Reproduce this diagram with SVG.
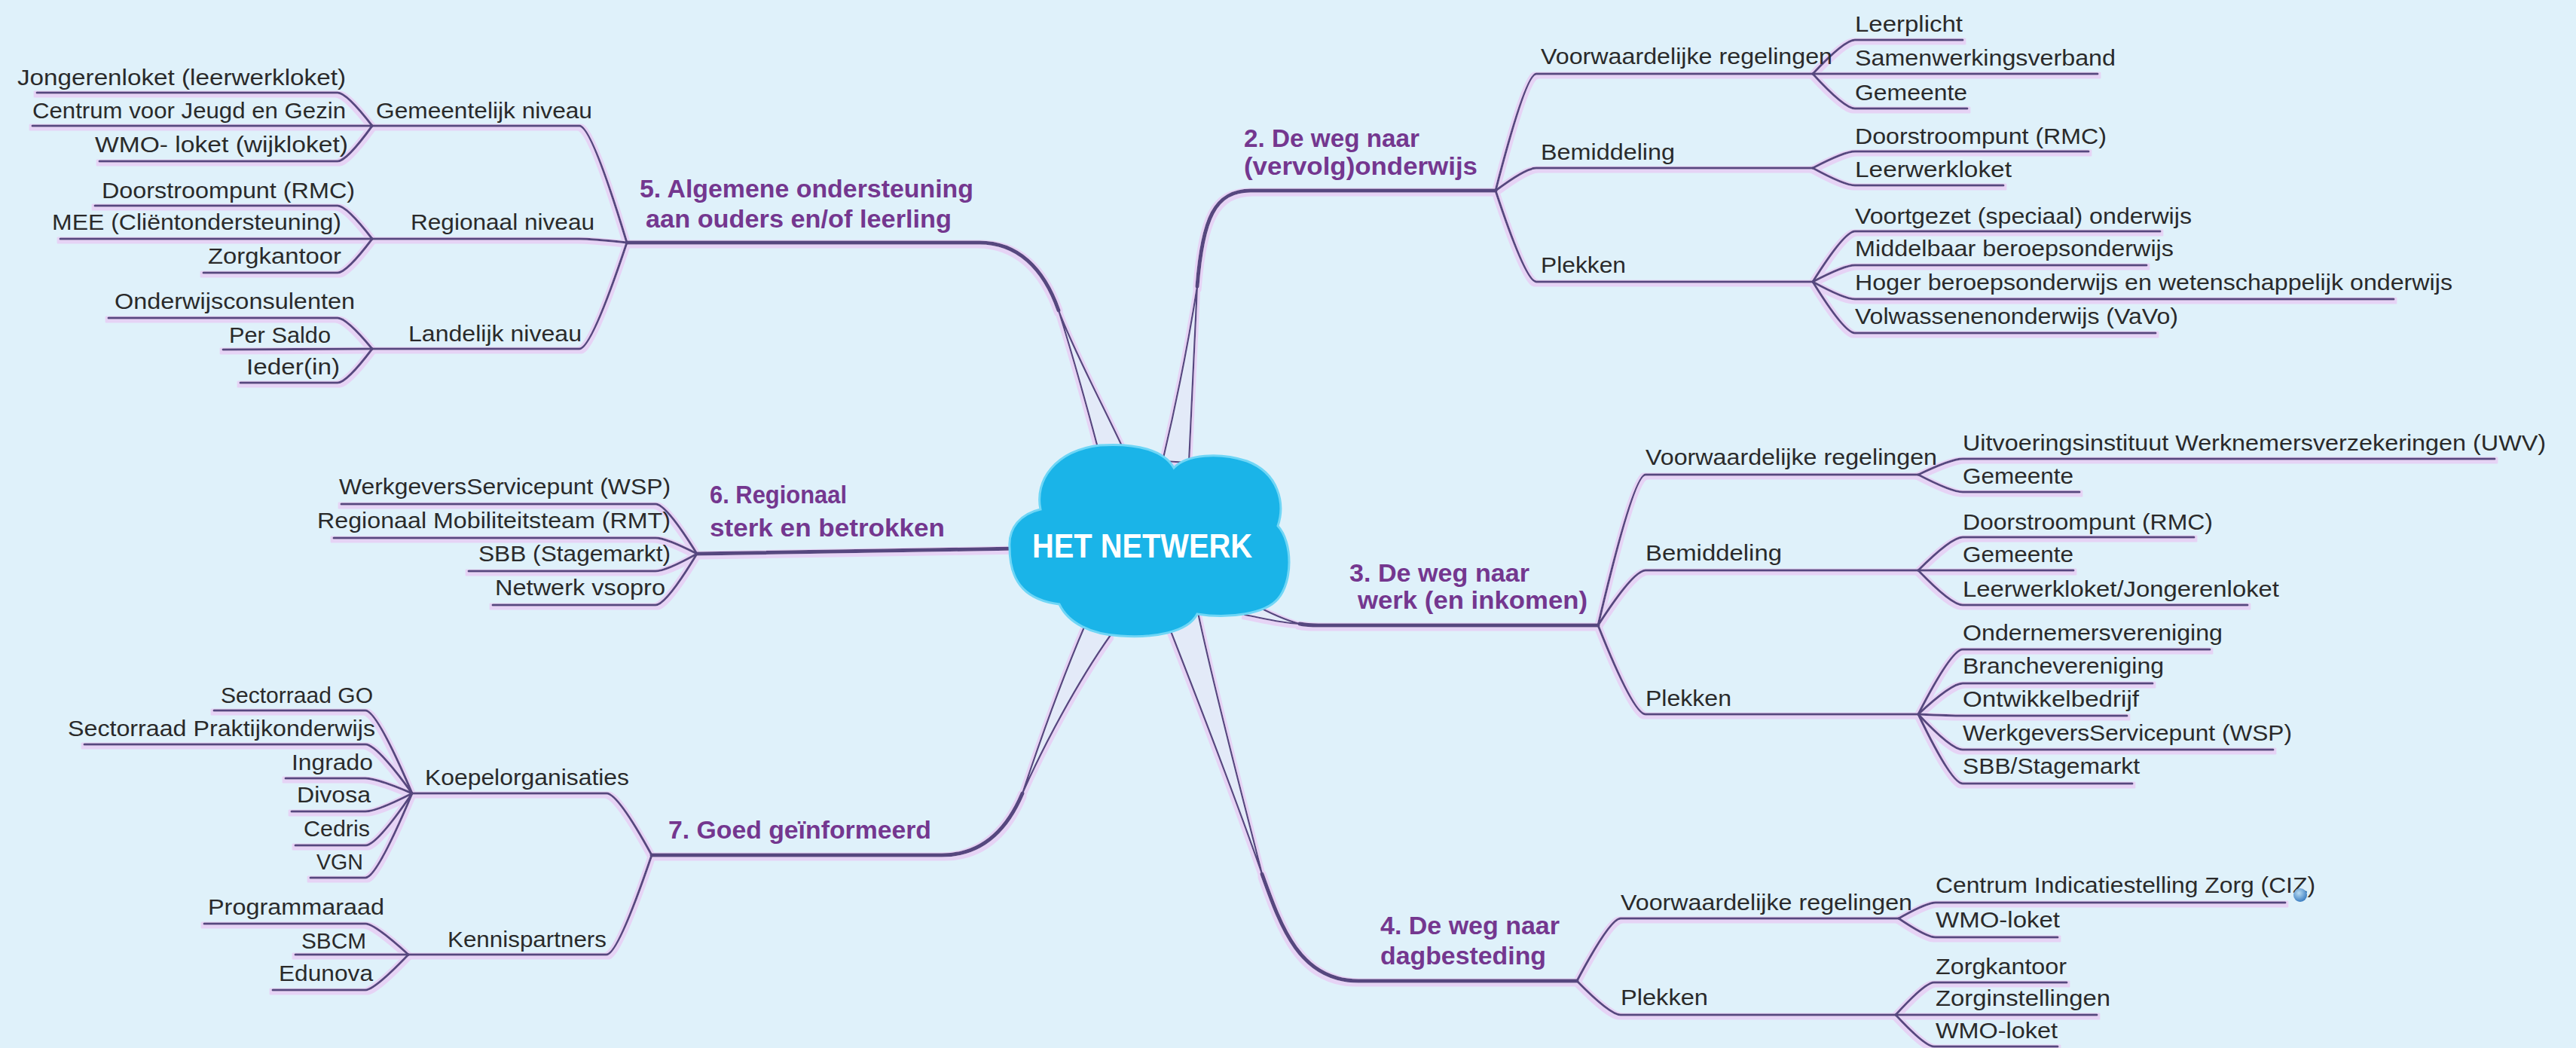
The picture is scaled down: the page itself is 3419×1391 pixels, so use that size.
<svg xmlns="http://www.w3.org/2000/svg" width="3419" height="1391" viewBox="0 0 3419 1391">
<defs>
<style>
.c{font-family:"Liberation Sans",Arial,sans-serif;font-size:30px;fill:#2a2a2a}
.t{font-family:"Liberation Sans",Arial,sans-serif;font-size:33px;font-weight:bold;fill:#74378f}
.hub{font-family:"Liberation Sans",Arial,sans-serif;font-size:44px;font-weight:bold;fill:#ffffff}
.ln{fill:none;stroke:#56467f;stroke-width:3;stroke-linecap:round;stroke-linejoin:round}
.mn{fill:none;stroke:#56467f;stroke-width:5;stroke-linecap:round;stroke-linejoin:round}
.wd{fill:#e3eaf8;stroke:#56467f;stroke-width:2.2;stroke-linejoin:round}
</style>
<filter id="glow" x="-2%" y="-2%" width="104%" height="104%">
<feMorphology in="SourceAlpha" operator="dilate" radius="3" result="d"/>
<feFlood flood-color="#e6d3f5"/>
<feComposite in2="d" operator="in" result="g"/>
<feOffset dy="1.5"/>
<feMerge><feMergeNode/><feMergeNode in="SourceGraphic"/></feMerge>
</filter>
<radialGradient id="ball" cx="40%" cy="35%" r="65%">
<stop offset="0" stop-color="#b9dcf3"/>
<stop offset="1" stop-color="#3d7fc2"/>
</radialGradient>
</defs>
<rect width="3419" height="1391" fill="#dff1fa"/>

<g id="connectors" filter="url(#glow)">
<!-- main branches: tapered part near the hub + thick line -->
<path class="wd" d="M1543,612 C1560,540 1578,450 1589,380 C1586,450 1582,530 1578,614 Z"/>
<path class="mn" d="M1589,380 C1596,290 1612,253 1660,253 L1985,253"/>
<path class="wd" d="M1660,800 C1682,812 1702,822 1725,828 C1700,827 1678,821 1652,816 Z"/>
<path class="mn" d="M1725,828 Q1735,830 1750,830 L2121,830"/>
<path class="wd" d="M1552,833 C1590,930 1640,1060 1675,1160 C1650,1060 1615,930 1590,813 Z"/>
<path class="mn" d="M1675,1160 C1700,1230 1725,1302 1803,1302 L2093,1302"/>
<path class="wd" d="M1458,598 C1440,530 1420,460 1405,412 C1425,465 1460,530 1492,598 Z"/>
<path class="mn" d="M1405,412 C1385,355 1350,322 1300,322 L832,322"/>
<path class="mn" d="M925,735 L1352,728"/>
<path class="wd" d="M1440,830 C1410,900 1378,990 1357,1053 C1385,990 1430,905 1474,843 Z"/>
<path class="mn" d="M1357,1053 C1335,1105 1300,1135 1250,1135 L865,1135"/>
<!-- branch 2 -->
<path class="ln" d="M1985,253 Q2025,98 2039,98 L2406,98"/>
<path class="ln" d="M1985,253 Q2025,223 2039,223 L2406,223"/>
<path class="ln" d="M1985,253 Q2025,374 2039,374 L2406,374"/>
<path class="ln" d="M2406,98 Q2448,53 2462,53 L2605,53"/>
<path class="ln" d="M2406,98 L2784,98"/>
<path class="ln" d="M2406,98 Q2448,144 2462,144 L2611,144"/>
<path class="ln" d="M2406,223 Q2448,201 2462,201 L2772,201"/>
<path class="ln" d="M2406,223 Q2448,246 2462,246 L2659,246"/>
<path class="ln" d="M2406,374 Q2448,307 2462,307 L2867,307"/>
<path class="ln" d="M2406,374 Q2448,352 2462,352 L2849,352"/>
<path class="ln" d="M2406,374 Q2448,397 2462,397 L3177,397"/>
<path class="ln" d="M2406,374 Q2448,442 2462,442 L2861,442"/>
<!-- branch 3 -->
<path class="ln" d="M2121,830 Q2168,630 2184,630 L2546,630"/>
<path class="ln" d="M2121,830 Q2168,757 2184,757 L2546,757"/>
<path class="ln" d="M2121,830 Q2168,948 2184,948 L2546,948"/>
<path class="ln" d="M2546,630 Q2590,609 2605,609 L3311,609"/>
<path class="ln" d="M2546,630 Q2590,653 2605,653 L2760,653"/>
<path class="ln" d="M2546,757 Q2590,713 2605,713 L2912,713"/>
<path class="ln" d="M2546,757 L2752,757"/>
<path class="ln" d="M2546,757 Q2590,803 2605,803 L2983,803"/>
<path class="ln" d="M2546,948 Q2590,862 2605,862 L2933,862"/>
<path class="ln" d="M2546,948 Q2590,907 2605,907 L2857,907"/>
<path class="ln" d="M2546,948 Q2590,950 2605,950 L2823,950"/>
<path class="ln" d="M2546,948 Q2590,995 2605,995 L3017,995"/>
<path class="ln" d="M2546,948 Q2590,1040 2605,1040 L2830,1040"/>
<!-- branch 4 -->
<path class="ln" d="M2093,1302 Q2137,1219 2151,1219 L2520,1219"/>
<path class="ln" d="M2093,1302 Q2137,1347 2151,1347 L2516,1347"/>
<path class="ln" d="M2520,1219 Q2557,1198 2569,1198 L3033,1198"/>
<path class="ln" d="M2520,1219 Q2557,1244 2569,1244 L2731,1244"/>
<path class="ln" d="M2516,1347 Q2555,1304 2567,1304 L2743,1304"/>
<path class="ln" d="M2516,1347 L2783,1347"/>
<path class="ln" d="M2516,1347 Q2555,1389 2567,1389 L2731,1389"/>
<!-- branch 5 -->
<path class="ln" d="M832,322 Q785,167 769,167 L494,167"/>
<path class="ln" d="M832,322 Q785,317 769,317 L494,317"/>
<path class="ln" d="M832,322 Q785,463 769,463 L494,463"/>
<path class="ln" d="M494,167 Q460,123 448,123 L49,123"/>
<path class="ln" d="M494,167 L43,167"/>
<path class="ln" d="M494,167 Q460,214 448,214 L132,214"/>
<path class="ln" d="M494,317 Q460,273 448,273 L126,273"/>
<path class="ln" d="M494,317 L80,317"/>
<path class="ln" d="M494,317 Q460,362 448,362 L270,362"/>
<path class="ln" d="M494,463 Q460,422 448,422 L144,422"/>
<path class="ln" d="M494,463 L296,464"/>
<path class="ln" d="M494,463 Q460,508 448,508 L319,508"/>
<!-- branch 6 -->
<path class="ln" d="M925,735 Q884,669 870,669 L453,669"/>
<path class="ln" d="M925,735 Q884,714 870,714 L443,714"/>
<path class="ln" d="M925,735 Q884,758 870,758 L622,758"/>
<path class="ln" d="M925,735 Q884,803 870,803 L654,803"/>
<!-- branch 7 -->
<path class="ln" d="M865,1135 Q820,1053 805,1053 L547,1053"/>
<path class="ln" d="M865,1135 Q820,1267 805,1267 L542,1267"/>
<path class="ln" d="M547,1053 Q500,943 485,943 L284,943"/>
<path class="ln" d="M547,1053 Q500,988 485,988 L112,988"/>
<path class="ln" d="M547,1053 Q500,1033 485,1033 L379,1033"/>
<path class="ln" d="M547,1053 Q500,1077 485,1077 L387,1077"/>
<path class="ln" d="M547,1053 Q500,1122 485,1122 L392,1122"/>
<path class="ln" d="M547,1053 Q500,1165 485,1165 L412,1165"/>
<path class="ln" d="M542,1267 Q497,1226 485,1226 L271,1226"/>
<path class="ln" d="M542,1267 L392,1267"/>
<path class="ln" d="M542,1267 Q497,1314 485,1314 L362,1314"/>
</g>

<g id="hub">
<path d="M1340,727 C1338,700 1355,682 1381,676 C1373,638 1400,598 1460,591 C1510,588 1545,598 1558,621 C1575,603 1618,600 1655,612 C1697,628 1706,668 1696,698 C1716,720 1716,772 1696,795 C1680,814 1632,822 1589,815 C1576,840 1530,847 1487,844 C1448,842 1418,827 1406,802 C1366,797 1340,777 1340,727 Z" fill="#1ab4e8" stroke="#6fd6f6" stroke-width="3"/>
<text class="hub" x="1370" y="740" textLength="292" lengthAdjust="spacingAndGlyphs">HET NETWERK</text>
</g>

<!-- branch 2 -->
<g id="b2"><text class="t" x="1651" y="195" textLength="233" lengthAdjust="spacingAndGlyphs">2. De weg naar</text><text class="t" x="1651" y="232" textLength="310" lengthAdjust="spacingAndGlyphs">(vervolg)onderwijs</text></g>
<g id="b2-voorw"><text class="c" x="2045" y="85" textLength="387" lengthAdjust="spacingAndGlyphs">Voorwaardelijke regelingen</text></g>
<g id="b2-bemid"><text class="c" x="2045" y="212" textLength="178" lengthAdjust="spacingAndGlyphs">Bemiddeling</text></g>
<g id="b2-plek"><text class="c" x="2045" y="362" textLength="113" lengthAdjust="spacingAndGlyphs">Plekken</text></g>
<g id="b2-leerplicht"><text class="c" x="2462" y="42" textLength="143" lengthAdjust="spacingAndGlyphs">Leerplicht</text></g>
<g id="b2-samenw"><text class="c" x="2462" y="87" textLength="346" lengthAdjust="spacingAndGlyphs">Samenwerkingsverband</text></g>
<g id="b2-gemeente"><text class="c" x="2462" y="133" textLength="149" lengthAdjust="spacingAndGlyphs">Gemeente</text></g>
<g id="b2-rmc"><text class="c" x="2462" y="191" textLength="334" lengthAdjust="spacingAndGlyphs">Doorstroompunt (RMC)</text></g>
<g id="b2-leerwerk"><text class="c" x="2462" y="235" textLength="208" lengthAdjust="spacingAndGlyphs">Leerwerkloket</text></g>
<g id="b2-vso"><text class="c" x="2462" y="297" textLength="447" lengthAdjust="spacingAndGlyphs">Voortgezet (speciaal) onderwijs</text></g>
<g id="b2-mbo"><text class="c" x="2462" y="340" textLength="423" lengthAdjust="spacingAndGlyphs">Middelbaar beroepsonderwijs</text></g>
<g id="b2-hbo"><text class="c" x="2462" y="385" textLength="793" lengthAdjust="spacingAndGlyphs">Hoger beroepsonderwijs en wetenschappelijk onderwijs</text></g>
<g id="b2-vavo"><text class="c" x="2462" y="430" textLength="429" lengthAdjust="spacingAndGlyphs">Volwassenenonderwijs (VaVo)</text></g>

<!-- branch 3 -->
<g id="b3"><text class="t" x="1791" y="772" textLength="239" lengthAdjust="spacingAndGlyphs">3. De weg naar</text><text class="t" x="1802" y="808" textLength="305" lengthAdjust="spacingAndGlyphs">werk (en inkomen)</text></g>
<g id="b3-voorw"><text class="c" x="2184" y="617" textLength="387" lengthAdjust="spacingAndGlyphs">Voorwaardelijke regelingen</text></g>
<g id="b3-bemid"><text class="c" x="2184" y="744" textLength="181" lengthAdjust="spacingAndGlyphs">Bemiddeling</text></g>
<g id="b3-plek"><text class="c" x="2184" y="937" textLength="114" lengthAdjust="spacingAndGlyphs">Plekken</text></g>
<g id="b3-uwv"><text class="c" x="2605" y="598" textLength="774" lengthAdjust="spacingAndGlyphs">Uitvoeringsinstituut Werknemersverzekeringen (UWV)</text></g>
<g id="b3-gemeente1"><text class="c" x="2605" y="642" textLength="147" lengthAdjust="spacingAndGlyphs">Gemeente</text></g>
<g id="b3-rmc"><text class="c" x="2605" y="703" textLength="332" lengthAdjust="spacingAndGlyphs">Doorstroompunt (RMC)</text></g>
<g id="b3-gemeente2"><text class="c" x="2605" y="746" textLength="147" lengthAdjust="spacingAndGlyphs">Gemeente</text></g>
<g id="b3-loket"><text class="c" x="2605" y="792" textLength="420" lengthAdjust="spacingAndGlyphs">Leerwerkloket/Jongerenloket</text></g>
<g id="b3-ondern"><text class="c" x="2605" y="850" textLength="345" lengthAdjust="spacingAndGlyphs">Ondernemersvereniging</text></g>
<g id="b3-branche"><text class="c" x="2605" y="894" textLength="267" lengthAdjust="spacingAndGlyphs">Branchevereniging</text></g>
<g id="b3-ontw"><text class="c" x="2605" y="938" textLength="234" lengthAdjust="spacingAndGlyphs">Ontwikkelbedrijf</text></g>
<g id="b3-wsp"><text class="c" x="2605" y="983" textLength="437" lengthAdjust="spacingAndGlyphs">WerkgeversServicepunt (WSP)</text></g>
<g id="b3-sbb"><text class="c" x="2605" y="1027" textLength="235" lengthAdjust="spacingAndGlyphs">SBB/Stagemarkt</text></g>

<!-- branch 4 -->
<g id="b4"><text class="t" x="1832" y="1240" textLength="238" lengthAdjust="spacingAndGlyphs">4. De weg naar</text><text class="t" x="1832" y="1280" textLength="220" lengthAdjust="spacingAndGlyphs">dagbesteding</text></g>
<g id="b4-voorw"><text class="c" x="2151" y="1208" textLength="387" lengthAdjust="spacingAndGlyphs">Voorwaardelijke regelingen</text></g>
<g id="b4-plek"><text class="c" x="2151" y="1334" textLength="116" lengthAdjust="spacingAndGlyphs">Plekken</text></g>
<g id="b4-ciz"><text class="c" x="2569" y="1185" textLength="504" lengthAdjust="spacingAndGlyphs">Centrum Indicatiestelling Zorg (CIZ)</text><circle cx="3053" cy="1188" r="9" fill="url(#ball)"/></g>
<g id="b4-wmo1"><text class="c" x="2569" y="1231" textLength="165" lengthAdjust="spacingAndGlyphs">WMO-loket</text></g>
<g id="b4-zorgk"><text class="c" x="2569" y="1293" textLength="174" lengthAdjust="spacingAndGlyphs">Zorgkantoor</text></g>
<g id="b4-zorgi"><text class="c" x="2569" y="1335" textLength="232" lengthAdjust="spacingAndGlyphs">Zorginstellingen</text></g>
<g id="b4-wmo2"><text class="c" x="2569" y="1378" textLength="162" lengthAdjust="spacingAndGlyphs">WMO-loket</text></g>

<!-- branch 5 -->
<g id="b5"><text class="t" x="849" y="262" textLength="443" lengthAdjust="spacingAndGlyphs">5. Algemene ondersteuning</text><text class="t" x="857" y="302" textLength="406" lengthAdjust="spacingAndGlyphs">aan ouders en/of leerling</text></g>
<g id="b5-gem"><text class="c" x="499" y="157" textLength="287" lengthAdjust="spacingAndGlyphs">Gemeentelijk niveau</text></g>
<g id="b5-reg"><text class="c" x="545" y="305" textLength="244" lengthAdjust="spacingAndGlyphs">Regionaal niveau</text></g>
<g id="b5-land"><text class="c" x="542" y="453" textLength="230" lengthAdjust="spacingAndGlyphs">Landelijk niveau</text></g>
<g id="b5-jong"><text class="c" x="23" y="113" textLength="436" lengthAdjust="spacingAndGlyphs">Jongerenloket (leerwerkloket)</text></g>
<g id="b5-cjg"><text class="c" x="43" y="157" textLength="416" lengthAdjust="spacingAndGlyphs">Centrum voor Jeugd en Gezin</text></g>
<g id="b5-wmo"><text class="c" x="126" y="202" textLength="336" lengthAdjust="spacingAndGlyphs">WMO- loket (wijkloket)</text></g>
<g id="b5-rmc"><text class="c" x="135" y="263" textLength="336" lengthAdjust="spacingAndGlyphs">Doorstroompunt (RMC)</text></g>
<g id="b5-mee"><text class="c" x="69" y="305" textLength="384" lengthAdjust="spacingAndGlyphs">MEE (Cliëntondersteuning)</text></g>
<g id="b5-zorgk"><text class="c" x="276" y="350" textLength="177" lengthAdjust="spacingAndGlyphs">Zorgkantoor</text></g>
<g id="b5-onderw"><text class="c" x="152" y="410" textLength="319" lengthAdjust="spacingAndGlyphs">Onderwijsconsulenten</text></g>
<g id="b5-persaldo"><text class="c" x="304" y="455" textLength="135" lengthAdjust="spacingAndGlyphs">Per Saldo</text></g>
<g id="b5-ieder"><text class="c" x="327" y="497" textLength="124" lengthAdjust="spacingAndGlyphs">Ieder(in)</text></g>

<!-- branch 6 -->
<g id="b6"><text class="t" x="942" y="668" textLength="182" lengthAdjust="spacingAndGlyphs">6. Regionaal</text><text class="t" x="942" y="712" textLength="312" lengthAdjust="spacingAndGlyphs">sterk en betrokken</text></g>
<g id="b6-wsp"><text class="c" x="450" y="656" textLength="440" lengthAdjust="spacingAndGlyphs">WerkgeversServicepunt (WSP)</text></g>
<g id="b6-rmt"><text class="c" x="421" y="701" textLength="469" lengthAdjust="spacingAndGlyphs">Regionaal Mobiliteitsteam (RMT)</text></g>
<g id="b6-sbb"><text class="c" x="635" y="745" textLength="255" lengthAdjust="spacingAndGlyphs">SBB (Stagemarkt)</text></g>
<g id="b6-vsopro"><text class="c" x="657" y="790" textLength="226" lengthAdjust="spacingAndGlyphs">Netwerk vsopro</text></g>

<!-- branch 7 -->
<g id="b7"><text class="t" x="887" y="1113" textLength="349" lengthAdjust="spacingAndGlyphs">7. Goed geïnformeerd</text></g>
<g id="b7-koepel"><text class="c" x="564" y="1042" textLength="271" lengthAdjust="spacingAndGlyphs">Koepelorganisaties</text></g>
<g id="b7-kennis"><text class="c" x="594" y="1257" textLength="211" lengthAdjust="spacingAndGlyphs">Kennispartners</text></g>
<g id="b7-go"><text class="c" x="293" y="933" textLength="202" lengthAdjust="spacingAndGlyphs">Sectorraad GO</text></g>
<g id="b7-pro"><text class="c" x="90" y="977" textLength="408" lengthAdjust="spacingAndGlyphs">Sectorraad Praktijkonderwijs</text></g>
<g id="b7-ingrado"><text class="c" x="387" y="1022" textLength="108" lengthAdjust="spacingAndGlyphs">Ingrado</text></g>
<g id="b7-divosa"><text class="c" x="394" y="1065" textLength="98" lengthAdjust="spacingAndGlyphs">Divosa</text></g>
<g id="b7-cedris"><text class="c" x="403" y="1110" textLength="88" lengthAdjust="spacingAndGlyphs">Cedris</text></g>
<g id="b7-vgn"><text class="c" x="420" y="1154" textLength="62" lengthAdjust="spacingAndGlyphs">VGN</text></g>
<g id="b7-prog"><text class="c" x="276" y="1214" textLength="234" lengthAdjust="spacingAndGlyphs">Programmaraad</text></g>
<g id="b7-sbcm"><text class="c" x="400" y="1259" textLength="86" lengthAdjust="spacingAndGlyphs">SBCM</text></g>
<g id="b7-edunova"><text class="c" x="370" y="1302" textLength="125" lengthAdjust="spacingAndGlyphs">Edunova</text></g>
</svg>
